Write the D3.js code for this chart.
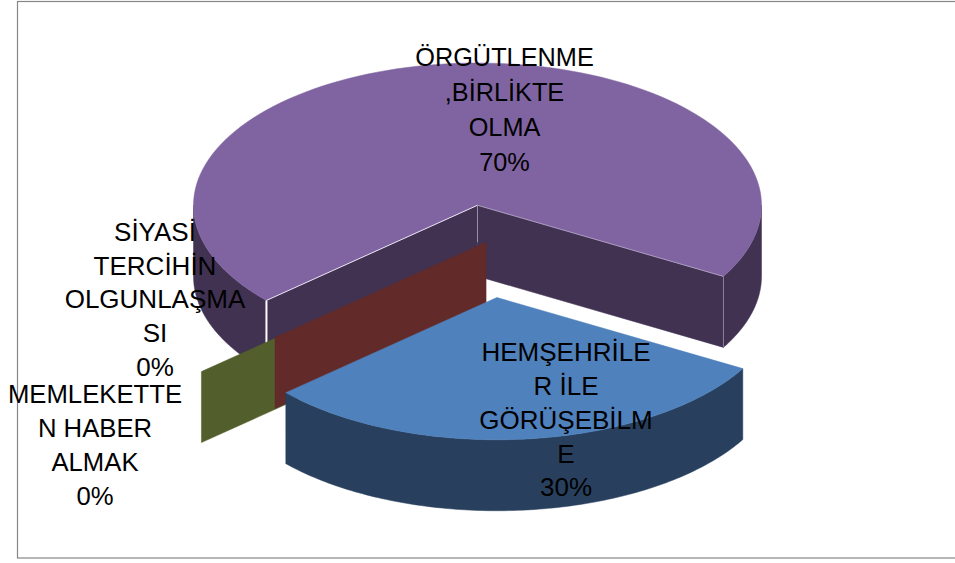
<!DOCTYPE html>
<html>
<head>
<meta charset="utf-8">
<script src="https://cdn.jsdelivr.net/npm/d3@7"></script>
<style>html,body{margin:0;padding:0;background:#fff}svg{display:block}</style>
</head>
<body>
<svg id="c" width="955" height="563"></svg>
<script>
const categories = ["HEMŞEHRİLER İLE GÖRÜŞEBİLME", "SİYASİ TERCİHİN OLGUNLAŞMASI", "MEMLEKETTEN HABER ALMAK", "ÖRGÜTLENME ,BİRLİKTE OLMA"];
const values = [30, 0, 0, 70];
const percentLabels = ["30%", "0%", "0%", "70%"];
const labelLines = [
  ["HEMŞEHRİLE", "R İLE", "GÖRÜŞEBİLM", "E"],
  ["SİYASİ", "TERCİHİN", "OLGUNLAŞMA", "SI"],
  ["MEMLEKETTE", "N HABER", "ALMAK"],
  ["ÖRGÜTLENME", ",BİRLİKTE", "OLMA"]
];
const topColors = ["#4F81BD", "#C0504D", "#9BBB59", "#8064A2"];
const sideColors = ["#28405E", "#622A28", "#525F2D", "#413252"];

const chartW = 955, DEG = Math.PI / 180;
const svg = d3.select("#c");
const x = d3.scaleLinear().domain([-1, 1]).range([193.5, 761.5]);
const y = d3.scaleLinear().domain([-1, 1]).range([63, 347.5]);
const depth = 71;

// slice pull-out, as [radial factor, direction in degrees]
const explode = [[0.652, 174], [0.262, 173.4], [0.55, 204.6], [0, 0]];

const pie = d3.pie().sort(null).startAngle(120 * DEG).endAngle(480 * DEG);
const slices = pie(values).map((d, i) => {
  const [f, dir] = explode[i];
  return { ...d, i, ox: f * Math.sin(dir * DEG), oy: -f * Math.cos(dir * DEG) };
});

const pathOf = d3.line().x(d => x(d[0])).y(d => y(d[1]) + (d[2] || 0));
const rim = (s, a, dz) => [s.ox + Math.sin(a), s.oy - Math.cos(a), dz];
const hub = (s, dz) => [s.ox, s.oy, dz];
const sweep = (a0, a1) => d3.range(0, 121).map(k => a0 + (a1 - a0) * k / 120);

const g = svg.append("g");

function face(pts, fill, stroke, sw) {
  g.append("path").attr("d", pathOf(pts) + "Z").attr("fill", fill)
    .attr("stroke", stroke || fill).attr("stroke-width", sw === undefined ? 0.5 : sw);
}
function outerSide(s, a0, a1) {
  const lo = Math.max(a0, 90 * DEG), hi = Math.min(a1, 270 * DEG);
  if (hi <= lo) return;
  const arc = sweep(lo, hi);
  face(arc.map(a => rim(s, a, 0)).concat(arc.slice().reverse().map(a => rim(s, a, depth))), sideColors[s.i]);
}
function wall(s, a) {
  face([hub(s, 0), rim(s, a, 0), rim(s, a, depth), hub(s, depth)], sideColors[s.i]);
}
function topFace(s) {
  const arc = sweep(s.startAngle, s.endAngle);
  face([hub(s, 0)].concat(arc.map(a => rim(s, a, 0))), topColors[s.i]);
}
function seam(a, b, color, w) {
  g.append("path").attr("d", pathOf([a, b])).attr("fill", "none").attr("stroke", color).attr("stroke-width", w);
}

// frame
svg.insert("rect", "g").attr("x", 17.5).attr("y", 1.5).attr("width", chartW).attr("height", 556.5)
  .attr("fill", "#fff").attr("stroke", "#868686").attr("stroke-width", 1.2);

// large slice: its sweep wraps past 360 degrees, so the visible rim pieces are drawn apart
const big = slices[3];
const bigEnd = big.endAngle - 2 * Math.PI;
outerSide(big, big.startAngle, 270 * DEG);
outerSide(big, 90 * DEG, bigEnd);
wall(big, bigEnd);
wall(big, big.startAngle);
topFace(big);
seam(rim(big, big.startAngle, 0), rim(big, big.startAngle, depth - 28), "#ffffff", 2);
seam(hub(big, 0), rim(big, big.startAngle, 0), "#e8e2ee", 1);
seam(hub(big, 0), hub(big, depth - 34), "#9a90a6", 1);
seam(hub(big, 0), rim(big, bigEnd, 0), "#b5a8c4", 0.8);
seam(rim(big, bigEnd, 0), rim(big, bigEnd, depth), "#8d8098", 1);

// zero-size slices appear as bare walls
wall(slices[2], slices[2].startAngle);
wall(slices[1], slices[1].startAngle);

// pulled-out slice
const blue = slices[0];
outerSide(blue, blue.startAngle, blue.endAngle);
topFace(blue);

// labels: centre x, first line y, line height, font size
const labelAnchors = [[566, 352, 33.8, 26], [155, 232, 33.6, 26], [95, 394, 34, 25.7], [504.5, 57.5, 35, 25.3]];
const labelGroup = svg.append("g").attr("font-family", "'Liberation Sans', Arial, sans-serif")
  .attr("fill", "#000").attr("text-anchor", "middle");
categories.forEach((c, i) => {
  const [lx, ly, lh, fs] = labelAnchors[i];
  labelLines[i].concat(percentLabels[i]).forEach((t, k) => {
    labelGroup.append("text").attr("x", lx).attr("y", ly + k * lh).attr("dy", "0.35em")
      .attr("font-size", fs).text(t);
  });
});
</script>
</body>
</html>
